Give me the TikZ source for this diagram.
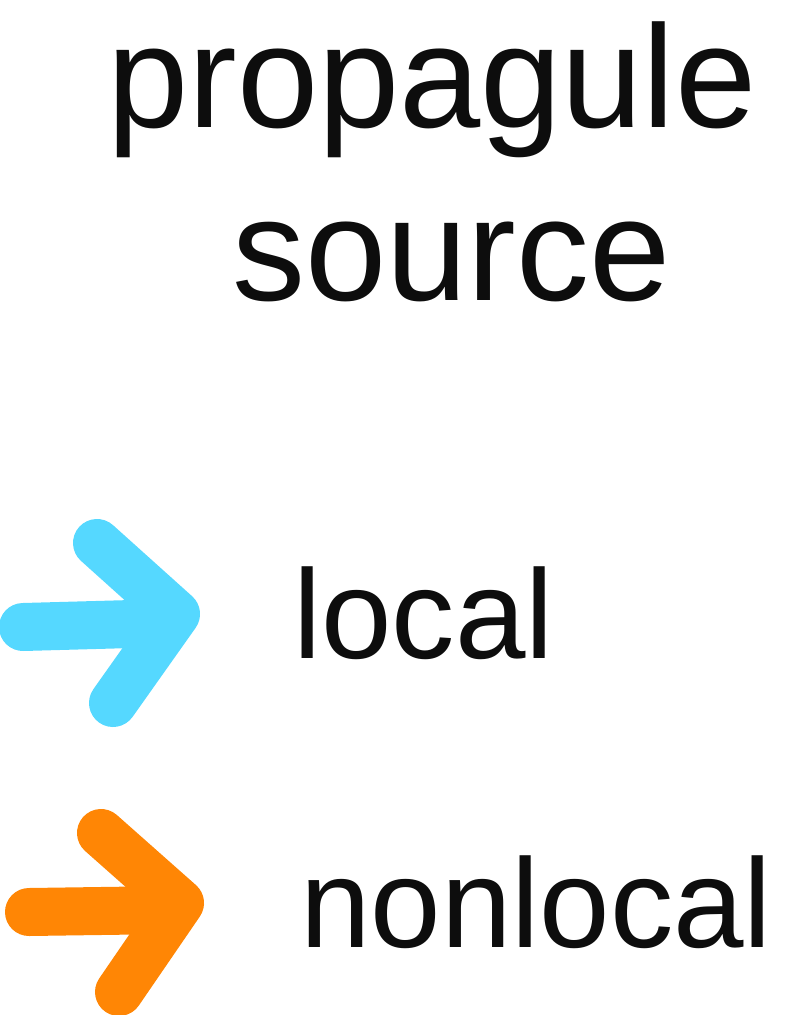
\documentclass[tikz,border=0pt]{standalone}
\usepackage{fontspec}
\setmainfont{Liberation Sans}
\definecolor{localblue}{HTML}{55D8FF}
\definecolor{nonlocalorange}{HTML}{FF8605}
\begin{document}
\begin{tikzpicture}[x=0.75pt,y=-0.75pt,
  bigtext/.style={anchor=base west,inner sep=0pt,font=\fontsize{109.5}{109.5}\selectfont,text=black!95},
  midtext/.style={anchor=base west,inner sep=0pt,font=\fontsize{95}{95}\selectfont,text=black!95},
  arrowstroke/.style={line width=36pt,line cap=round,line join=round}]
\useasboundingbox (0,0) rectangle (799,1015);
\node[bigtext] (title1) at (107,127) {propagule};
\node[bigtext] (title2) at (232,300) {source};
\node[midtext] (loc) at (293,658) {local};
\node[midtext] (nonloc) at (300,947) {nonlocal};
% local arrow
\coordinate (la) at (23,627);
\coordinate (lb) at (168,623);
\coordinate (lt) at (176,614);
\coordinate (lu) at (97,543);
\coordinate (ld) at (113,703);
\draw[arrowstroke,localblue] (la) -- (lb);
\draw[arrowstroke,localblue] (lu) -- (lt) -- (ld);
% nonlocal arrow
\coordinate (na) at (29,912);
\coordinate (nb) at (172,910);
\coordinate (nt) at (180,903);
\coordinate (nu) at (101,833);
\coordinate (nd) at (119,992);
\draw[arrowstroke,nonlocalorange] (na) -- (nb);
\draw[arrowstroke,nonlocalorange] (nu) -- (nt) -- (nd);
\end{tikzpicture}
\end{document}
